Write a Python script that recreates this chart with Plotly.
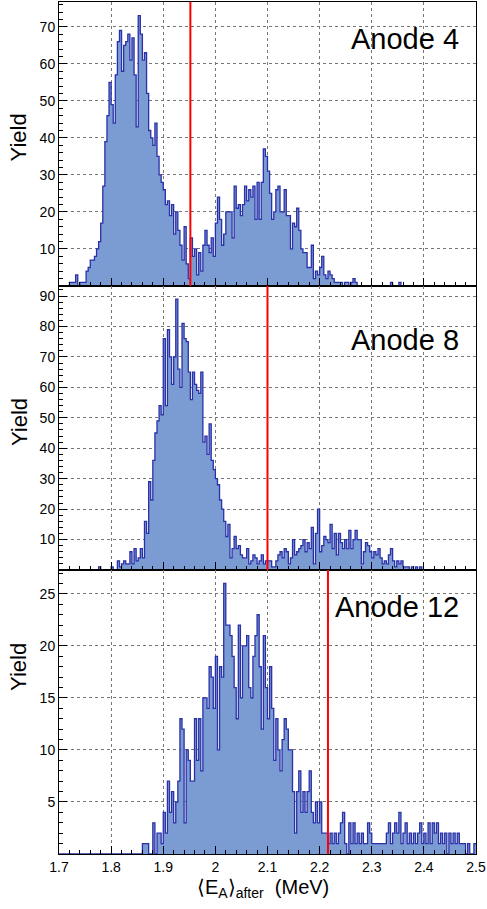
import numpy as np
import plotly.graph_objects as go
from plotly.subplots import make_subplots

# histogram binning: 200 bins from 1.7 to 2.5 MeV
X_LO, X_HI, N_BINS = 1.7, 2.5, 200

# bin contents (bins 0..199)
anode4 = [
    0, 0, 0, 0, 0, 1, 1, 1, 3, 0,
    1, 1, 1, 4, 5, 7, 7, 8, 10, 12,
    17, 27, 39, 46, 55, 49, 44, 57, 66, 69,
    58, 65, 66, 68, 61, 67, 57, 43, 73, 68,
    61, 63, 52, 42, 40, 38, 44, 35, 30, 28,
    26, 22, 23, 19, 22, 14, 20, 15, 11, 7,
    16, 6, 2, 13, 8, 10, 3, 9, 4, 11,
    15, 11, 9, 13, 8, 17, 24, 18, 11, 14,
    20, 20, 20, 13, 27, 21, 22, 19, 22, 27,
    23, 26, 24, 27, 18, 28, 18, 28, 37, 35,
    31, 25, 18, 20, 26, 27, 20, 20, 26, 19,
    19, 10, 17, 16, 21, 15, 10, 9, 9, 5,
    5, 11, 2, 4, 3, 5, 8, 3, 2, 4,
    3, 2, 1, 1, 1, 1, 0, 1, 1, 0,
    1, 2, 1, 0, 0, 0, 0, 0, 0, 0,
    0, 0, 0, 0, 0, 0, 0, 0, 0, 1,
    0, 0, 0, 1, 0, 0, 0, 0, 0, 0,
    0, 0, 0, 0, 0, 0, 0, 0, 0, 0,
    0, 0, 0, 0, 0, 0, 0, 0, 0, 0,
    0, 0, 0, 0, 0, 0, 0, 0, 0, 0,
]

anode8 = [
    0, 0, 0, 0, 0, 0, 0, 0, 0, 0,
    0, 0, 0, 0, 0, 0, 0, 0, 0, 1,
    0, 0, 0, 0, 0, 1, 0, 0, 3, 1,
    2, 3, 2, 2, 6, 2, 7, 3, 4, 7,
    4, 16, 12, 29, 23, 36, 45, 49, 54, 51,
    76, 54, 79, 70, 61, 70, 89, 66, 60, 81,
    76, 75, 65, 56, 65, 61, 59, 58, 65, 42,
    44, 38, 48, 36, 33, 30, 28, 23, 20, 16,
    11, 15, 4, 7, 11, 7, 8, 5, 4, 4,
    7, 2, 3, 5, 4, 2, 3, 5, 2, 3,
    3, 3, 1, 1, 3, 5, 6, 4, 7, 6,
    2, 4, 10, 5, 6, 7, 8, 10, 6, 9,
    7, 14, 2, 12, 20, 6, 8, 11, 10, 9,
    15, 7, 12, 5, 12, 9, 7, 10, 7, 13,
    7, 10, 13, 10, 10, 2, 6, 9, 8, 6,
    4, 6, 5, 7, 4, 2, 3, 2, 5, 7,
    3, 1, 3, 2, 3, 1, 1, 1, 0, 1,
    0, 1, 0, 1, 0, 0, 0, 0, 0, 0,
    0, 0, 0, 0, 0, 0, 0, 0, 0, 0,
    0, 0, 0, 0, 0, 0, 0, 0, 0, 0,
]

anode12 = [
    0, 0, 0, 0, 0, 0, 0, 0, 0, 0,
    0, 0, 0, 0, 0, 0, 0, 0, 0, 0,
    0, 0, 0, 0, 0, 0, 0, 0, 0, 0,
    0, 0, 0, 0, 0, 0, 0, 0, 0, 0,
    1, 1, 1, 0, 0, 3, 0, 2, 2, 1,
    4, 2, 7, 4, 6, 3, 5, 7, 13, 12,
    3, 10, 9, 7, 7, 13, 9, 13, 8, 15,
    15, 14, 18, 17, 14, 19, 10, 18, 17, 26,
    22, 22, 21, 19, 16, 13, 22, 15, 20, 20,
    21, 16, 15, 19, 21, 23, 18, 12, 21, 16,
    13, 18, 14, 9, 13, 10, 8, 11, 13, 12,
    10, 10, 6, 2, 6, 8, 4, 6, 4, 6,
    8, 4, 3, 5, 3, 5, 2, 2, 2, 1,
    2, 1, 2, 1, 2, 3, 4, 1, 0, 3,
    1, 3, 1, 2, 1, 2, 1, 1, 3, 2,
    1, 1, 1, 1, 1, 1, 1, 2, 3, 1,
    2, 3, 2, 4, 1, 2, 3, 1, 2, 1,
    2, 1, 2, 3, 1, 2, 1, 3, 1, 3,
    2, 3, 1, 2, 1, 2, 0, 2, 1, 2,
    1, 2, 1, 1, 1, 0, 1, 0, 0, 1,
]

labels = ["Anode 4", "Anode 8", "Anode 12"]
cut_values = [1.952, 2.100, 2.216]
y_max = [76.7, 93.3, 27.3]
y_ticks = [[10, 20, 30, 40, 50, 60, 70],
           [10, 20, 30, 40, 50, 60, 70, 80, 90],
           [5, 10, 15, 20, 25]]
y_minor = [2, 2, 1]

FILL = "#7b9bd3"
EDGE = "#2a31a8"
FONT = "Liberation Sans, Arial, sans-serif"

edges = np.linspace(X_LO, X_HI, N_BINS + 1)

fig = make_subplots(rows=3, cols=1, shared_xaxes=True, vertical_spacing=0)

for i, counts in enumerate([anode4, anode8, anode12]):
    row = i + 1
    assert len(counts) == N_BINS
    fig.add_trace(go.Scatter(
        x=edges, y=list(counts) + [counts[-1]],
        mode="lines", line_shape="hv",
        line=dict(color=EDGE, width=1.3),
        fill="tozeroy", fillcolor=FILL,
        showlegend=False, hoverinfo="skip",
    ), row=row, col=1)

    fig.add_vline(x=cut_values[i], line_color="red", line_width=2, row=row, col=1)

    fig.update_yaxes(
        range=[0, y_max[i]], tickmode="array", tickvals=y_ticks[i],
        ticks="inside", ticklen=8, tickcolor="black",
        minor=dict(tickmode="linear", tick0=0, dtick=y_minor[i], ticks="inside",
                   ticklen=4, tickcolor="black"),
        showgrid=True, gridcolor="#777", griddash="dot", gridwidth=1,
        showline=True, linecolor="black", linewidth=1, mirror=True,
        zeroline=False, tickfont=dict(size=14, color="black"),
        row=row, col=1)

    # "Anode N" label in the top right corner
    ax = "" if row == 1 else str(row)
    fig.add_annotation(
        text=labels[i], xref=f"x{ax} domain", yref=f"y{ax} domain",
        x=0.963, y=[0.871, 0.81, 0.871][i], xanchor="right", yanchor="middle",
        showarrow=False, font=dict(size=29, color="black", family=FONT))

    # y title
    fig.add_annotation(
        text="Yield", xref="paper", yref="paper",
        x=-0.096, y=[0.841, 0.507, 0.2195][i], textangle=-90,
        xanchor="center", yanchor="middle", showarrow=False,
        font=dict(size=22, color="black", family=FONT))

fig.update_xaxes(
    range=[X_LO, X_HI], dtick=0.1, tick0=1.7,
    ticks="inside", ticklen=8, tickcolor="black",
    minor=dict(dtick=0.02, ticks="inside", ticklen=4, tickcolor="black"),
    showgrid=True, gridcolor="#777", griddash="dot", gridwidth=1,
    showline=True, linecolor="black", linewidth=1, mirror=True,
    zeroline=False, tickfont=dict(size=14, color="black"))

fig.add_annotation(
    text="⟨E<sub>A</sub>⟩<sub>after</sub>  (MeV)", xref="paper", yref="paper",
    x=0.489, y=-0.04, xanchor="center", yanchor="middle", showarrow=False,
    font=dict(size=20, color="black", family=FONT))

fig.update_layout(
    width=487, height=909,
    margin=dict(l=59, r=11, t=2, b=55),
    paper_bgcolor="white", plot_bgcolor="white",
    font=dict(family=FONT, color="black"),
    showlegend=False,
)

# drop the default page margin so the figure fills the window exactly
fig.write_html("out.html", config={"displayModeBar": False},
               post_script="document.body.style.margin='0px';"
               "document.body.style.overflow='hidden';")
